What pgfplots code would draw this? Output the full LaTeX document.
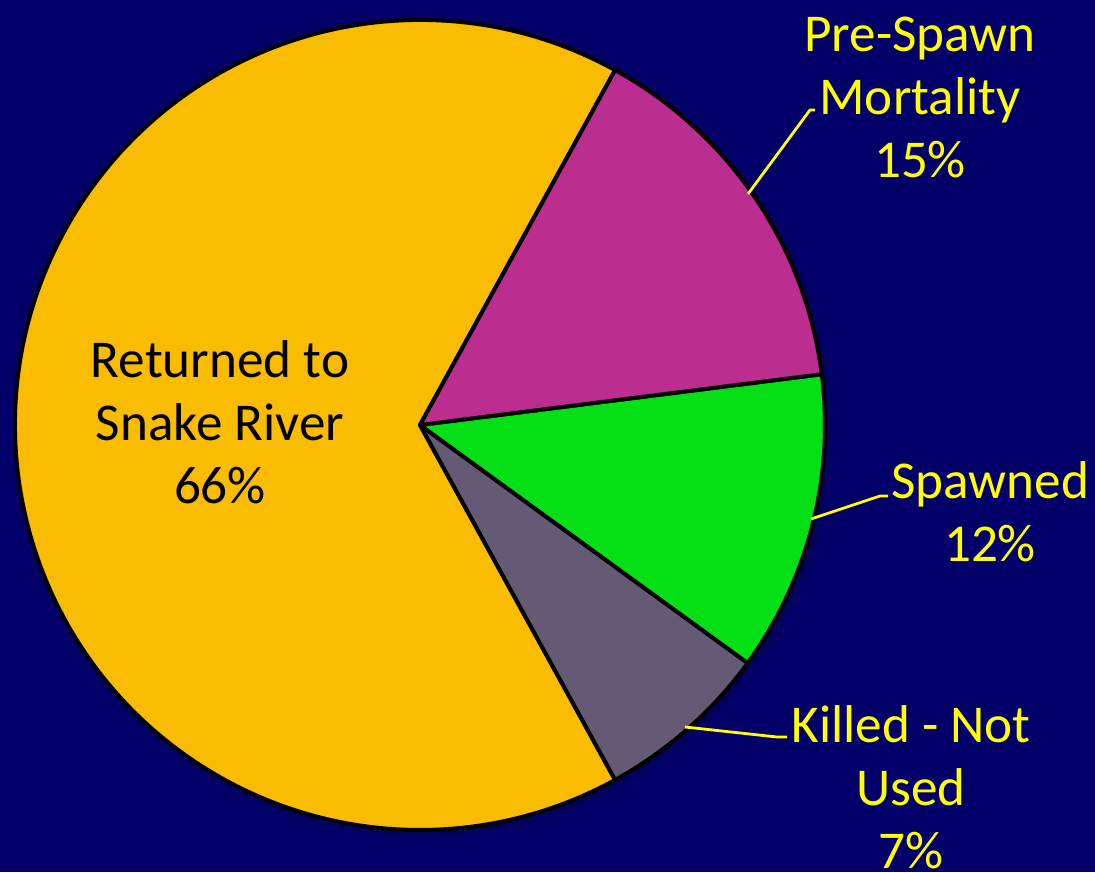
\documentclass[border=0pt]{standalone}
\usepackage{pgfplots}
\pgfplotsset{compat=1.18}
\usepackage{pgfplotstable}
\usepackage{fontspec}
\setmainfont{Carlito}
\definecolor{bg}{HTML}{020068}
\definecolor{cRet}{HTML}{F9BC00}
\definecolor{cPre}{HTML}{BB2D8F}
\definecolor{cSpa}{HTML}{05E016}
\definecolor{cKil}{HTML}{655A75}
\definecolor{lab}{HTML}{FFFF00}
\pgfplotstableread{
label value
Returned 66
Killed 7
Spawned 12
PreSpawn 15
}\piedata
\newcommand\slice[3]{\filldraw[fill=#3, draw=black, line width=2pt, line join=round]
  (axis cs:420,447) -- (axis cs:{420+405*cos(#1)},{447+405*sin(#1)})
  arc[start angle=#1, end angle=#2, radius=202.5pt] -- cycle;}
\begin{document}
\begin{tikzpicture}
\pgfplotstablegetelem{0}{value}\of\piedata \let\vA\pgfplotsretval
\pgfplotstablegetelem{1}{value}\of\piedata \let\vB\pgfplotsretval
\pgfplotstablegetelem{2}{value}\of\piedata \let\vC\pgfplotsretval
\pgfplotstablegetelem{3}{value}\of\piedata \let\vD\pgfplotsretval
\pgfmathsetmacro\aA{180-\vA*1.8}
\pgfmathsetmacro\aB{\aA+\vA*3.6}
\pgfmathsetmacro\aC{\aB+\vB*3.6}
\pgfmathsetmacro\aD{\aC+\vC*3.6}
\pgfmathsetmacro\aE{\aD+\vD*3.6}
\begin{axis}[scale only axis, width=547.5pt, height=436pt,
  xmin=0, xmax=1095, ymin=0, ymax=872, hide axis, clip=true]
\fill[bg] (axis cs:0,0) rectangle (axis cs:1095,872);
\fill[black, opacity=0.12] (axis cs:423,444) circle[radius=204.5pt];
\slice{\aA}{\aB}{cRet}
\slice{\aB}{\aC}{cKil}
\slice{\aC}{\aD}{cSpa}
\slice{\aD}{\aE}{cPre}
% leader lines
\draw[lab, line width=1.4pt] (axis cs:748,678) -- (axis cs:810,762) -- (axis cs:815,762);
\draw[lab, line width=1.4pt] (axis cs:811,353) -- (axis cs:880,376) -- (axis cs:888,376);
\draw[lab, line width=1.4pt] (axis cs:685,145) -- (axis cs:777,135) -- (axis cs:787,135);
% labels
\node[align=center, inner sep=0pt, font=\fontsize{26.6}{31.5}\selectfont, text=black] at (axis cs:220,450) {Returned to\\Snake River\\66\%};
\node[align=center, inner sep=0pt, font=\fontsize{26.6}{31.5}\selectfont, text=lab] at (axis cs:920,775) {Pre-Spawn\\Mortality\\15\%};
\node[align=center, inner sep=0pt, font=\fontsize{26.6}{31.5}\selectfont, text=lab] at (axis cs:990,360) {Spawned\\12\%};
\node[align=center, inner sep=0pt, font=\fontsize{26.6}{31.5}\selectfont, text=lab] at (axis cs:911,85) {Killed - Not\\Used\\7\%};
\end{axis}
\pgfresetboundingbox
\path[use as bounding box] (0,0) rectangle (547.5pt,436pt);
\end{tikzpicture}
\end{document}
